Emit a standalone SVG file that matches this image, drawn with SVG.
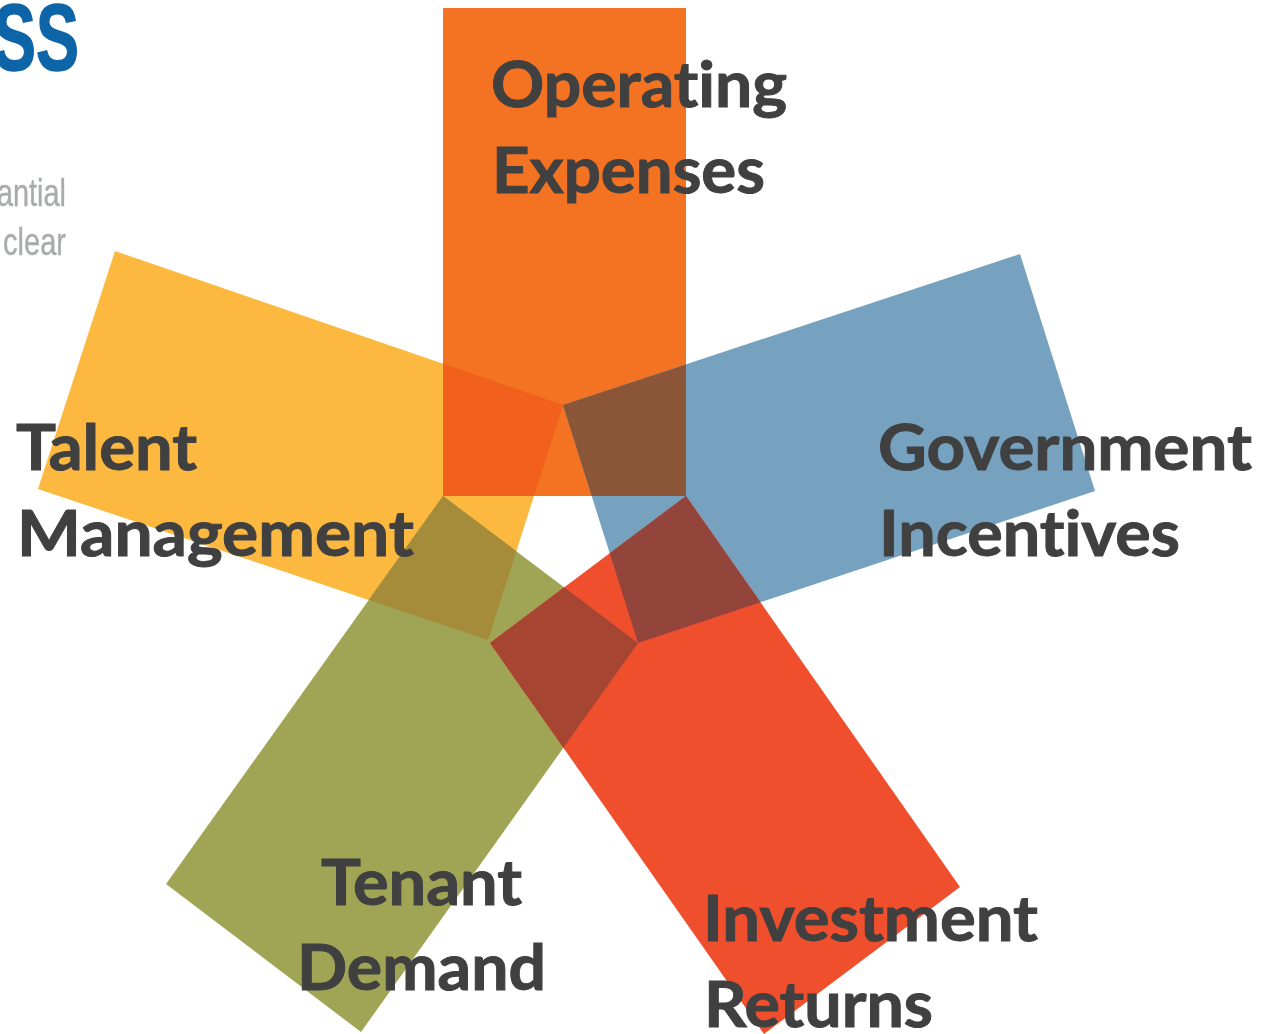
<svg xmlns="http://www.w3.org/2000/svg" width="1272" height="1034" viewBox="0 0 1272 1034">
<defs><filter id="soft" x="-5%" y="-5%" width="110%" height="110%"><feGaussianBlur stdDeviation="0.7"/></filter></defs>
<style>
.l{font-family:Lato,"Liberation Sans",sans-serif;font-weight:700;font-size:64px;fill:#404040;stroke:#404040;stroke-width:1;font-variant-ligatures:none}
.g{font-family:"Liberation Sans",Arial,sans-serif;font-size:38px;fill:#a9abae;stroke:#a9abae;stroke-width:.4}
.b{font-family:"Liberation Sans",Arial,sans-serif;font-weight:700;font-size:94px;fill:#0f65a8;stroke:#0f65a8;stroke-width:1.5}
</style>
<rect width="1272" height="1034" fill="#fff"/>
<g id="logo" filter="url(#soft)">
<text class="b" x="-7" y="70" textLength="86" lengthAdjust="spacingAndGlyphs">SS</text>
<text class="g" x="-3" y="206" textLength="69" lengthAdjust="spacingAndGlyphs">antial</text>
<text class="g" x="3" y="255" textLength="63" lengthAdjust="spacingAndGlyphs">clear</text>
</g>
<g filter="url(#soft)">
<g id="petal-talent"><polygon points="115,251 563,405 488,640 38,489" fill="#fdb83f"/></g>
<g id="petal-operating"><polygon points="443,8 686,8 686,496 443,496" fill="#f47320"/></g>
<g id="petal-government"><polygon points="563,405 1020,254 1095,491 638,643" fill="#76a2bf"/></g>
<g id="petal-tenant"><polygon points="443,496 638,643 361,1032 166,884" fill="#a0a455"/></g>
<g id="petal-investment"><polygon points="686,496 960,887 764,1034 490,643" fill="#f0502e"/></g>
<g id="overlaps">
<polygon points="443,363.8 563,405 534,496 443,496" fill="#f1601f"/>
<polygon points="563,405 686,364.4 686,496 591.7,496" fill="#8b5738"/>
<polygon points="686,496 760.5,602.3 638,643 609.7,553.2" fill="#93443a"/>
<polygon points="490,643 564.2,587.3 638,643 563.4,747.8" fill="#a54532"/>
<polygon points="443,496 516.3,551.3 488,640 368.7,600" fill="#a58c3a"/>
</g>
</g>
<g id="label-operating"><text class="l" x="491" y="107" textLength="296" lengthAdjust="spacingAndGlyphs">Operating</text><text class="l" x="492" y="193" textLength="273" lengthAdjust="spacingAndGlyphs">Expenses</text></g>
<g id="label-government"><text class="l" x="878" y="470" textLength="374" lengthAdjust="spacingAndGlyphs">Government</text><text class="l" x="879" y="556" textLength="301" lengthAdjust="spacingAndGlyphs">Incentives</text></g>
<g id="label-talent"><text class="l" x="16" y="470" textLength="181" lengthAdjust="spacingAndGlyphs">Talent</text><text class="l" x="17" y="556" textLength="397" lengthAdjust="spacingAndGlyphs">Management</text></g>
<g id="label-tenant"><text class="l" x="321" y="905" textLength="201" lengthAdjust="spacingAndGlyphs">Tenant</text><text class="l" x="297" y="990" textLength="249" lengthAdjust="spacingAndGlyphs">Demand</text></g>
<g id="label-investment"><text class="l" x="703" y="941" textLength="335" lengthAdjust="spacingAndGlyphs">Investment</text><text class="l" x="704" y="1027" textLength="229" lengthAdjust="spacingAndGlyphs">Returns</text></g>
<g id="connectors"/>
</svg>
